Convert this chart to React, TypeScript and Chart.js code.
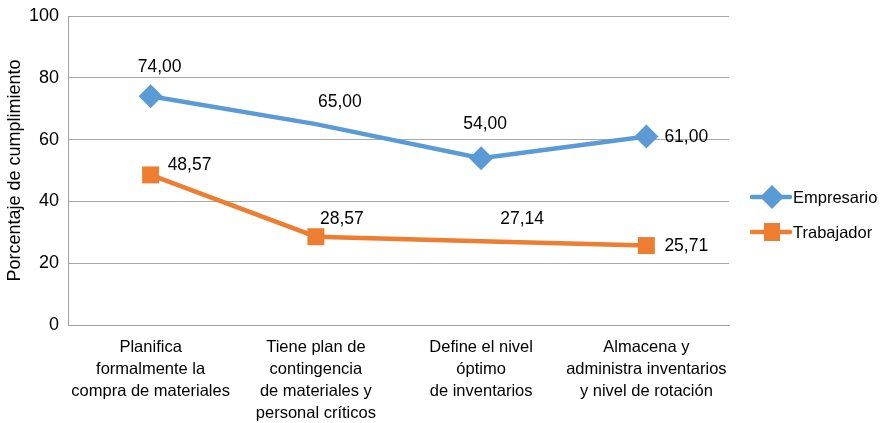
import React, { useEffect, useRef } from "react";
import { Chart, registerables } from "chart.js";

Chart.register(...registerables);

const categories: string[][] = [
  ["Planifica", "formalmente la", "compra de materiales"],
  ["Tiene plan de", "contingencia", "de materiales y", "personal críticos"],
  ["Define el nivel", "óptimo", "de inventarios"],
  ["Almacena y", "administra inventarios", "y nivel de rotación"],
];
const empresario: number[] = [74.0, 65.0, 54.0, 61.0];
const trabajador: number[] = [48.57, 28.57, 27.14, 25.71];
const yTicks: number[] = [0, 20, 40, 60, 80, 100];

const BLUE = "#5B9BD5";
const ORANGE = "#ED7D31";
const FONT = "'Liberation Sans', Arial, sans-serif";

// label offsets (dx, dy, align) relative to each point
const labelOffsets: [number, number, CanvasTextAlign][][] = [
  [[9, -29, "center"], [24, -22, "center"], [4, -34, "center"], [18, 1, "left"]],
  [[17, -10, "left"], [26, -18, "center"], [41, -22, "center"], [18, 1, "left"]],
];

function drawDiamond(ctx: CanvasRenderingContext2D, x: number, y: number, r: number) {
  ctx.beginPath();
  ctx.moveTo(x, y - r);
  ctx.lineTo(x + r, y);
  ctx.lineTo(x, y + r);
  ctx.lineTo(x - r, y);
  ctx.closePath();
  ctx.fill();
}

const dataLabelPlugin = {
  id: "dataLabels",
  afterDatasetsDraw(chart: any) {
    const ctx = chart.ctx as CanvasRenderingContext2D;
    ctx.save();
    ctx.font = `17.5px ${FONT}`;
    ctx.fillStyle = "#000";
    ctx.textBaseline = "middle";
    chart.data.datasets.forEach((ds: any, di: number) => {
      const meta = chart.getDatasetMeta(di);
      meta.data.forEach((pt: any, i: number) => {
        const [dx, dy, align] = labelOffsets[di][i];
        ctx.textAlign = align;
        const txt = (ds.data[i] as number).toFixed(2).replace(".", ",");
        ctx.fillText(txt, pt.x + dx, pt.y + dy);
      });
    });
    ctx.restore();
  },
};

const legendPlugin = {
  id: "customLegend",
  afterDraw(chart: any) {
    const ctx = chart.ctx as CanvasRenderingContext2D;
    const x0 = chart.chartArea.right + 23;
    const items = chart.data.datasets.map((ds: any, i: number) => ({
      label: ds.label,
      color: ds.borderColor,
      y: 197 + i * 35,
      shape: i === 0 ? "diamond" : "square",
    }));
    ctx.save();
    items.forEach((it: any) => {
      ctx.strokeStyle = it.color;
      ctx.fillStyle = it.color;
      ctx.lineWidth = 4.5;
      ctx.lineCap = "round";
      ctx.beginPath();
      ctx.moveTo(x0, it.y);
      ctx.lineTo(x0 + 38, it.y);
      ctx.stroke();
      if (it.shape === "diamond") drawDiamond(ctx, x0 + 20, it.y, 12);
      else ctx.fillRect(x0 + 20 - 8, it.y - 9, 16, 18);
      ctx.fillStyle = "#000";
      ctx.font = `16.5px ${FONT}`;
      ctx.textAlign = "left";
      ctx.textBaseline = "middle";
      ctx.fillText(it.label, x0 + 41, it.y + 1);
    });
    ctx.restore();
  },
};

export default function App() {
  const ref = useRef<HTMLCanvasElement | null>(null);
  useEffect(() => {
    if (!ref.current) return;
    const chart = new Chart(ref.current, {
      type: "line",
      data: {
        labels: categories,
        datasets: [
          {
            label: "Empresario",
            data: empresario,
            borderColor: BLUE,
            backgroundColor: BLUE,
            borderWidth: 4.5,
            pointStyle: "rectRot",
            pointRadius: [12, 0, 12, 12],
            pointHoverRadius: [12, 0, 12, 12],
            pointBorderWidth: 0,
            tension: 0,
          },
          {
            label: "Trabajador",
            data: trabajador,
            borderColor: ORANGE,
            backgroundColor: ORANGE,
            borderWidth: 4.5,
            pointStyle: "rect",
            pointRadius: [12, 12, 0, 12],
            pointHoverRadius: [12, 12, 0, 12],
            pointBorderWidth: 0,
            tension: 0,
          },
        ],
      },
      options: {
        animation: false,
        responsive: false,
        devicePixelRatio: 1,
        layout: { padding: { left: 0, right: 151, top: 16, bottom: 0 } },
        plugins: {
          legend: { display: false },
          tooltip: { enabled: false },
        },
        scales: {
          x: {
            offset: true,
            grid: { display: false, drawTicks: false },
            border: { display: true, color: "#a0a0a0", width: 1 },
            ticks: {
              autoSkip: false,
              maxRotation: 0,
              padding: 12,
              color: "#000",
              font: { family: FONT, size: 16.5, lineHeight: 1.32 },
            },
            afterFit(scale: any) {
              scale.height = 98;
              scale.paddingLeft = 0;
              scale.paddingRight = 0;
            },
          },
          y: {
            min: 0,
            max: 100,
            afterBuildTicks(scale: any) {
              scale.ticks = yTicks.map((v) => ({ value: v }));
            },
            grid: { color: "#a8a8a8", drawTicks: false, lineWidth: 1 },
            border: { display: true, color: "#a0a0a0", width: 1 },
            ticks: {
              padding: 9,
              color: "#000",
              font: { family: FONT, size: 18 },
            },
            title: {
              display: true,
              text: "Porcentaje de cumplimiento",
              color: "#000",
              font: { family: FONT, size: 18 },
              padding: { top: 4, bottom: 0 },
            },
            afterFit(scale: any) {
              scale.width = 68;
              scale.paddingTop = 0;
              scale.paddingBottom = 0;
            },
          },
        },
      },
      plugins: [dataLabelPlugin, legendPlugin],
    });
    return () => chart.destroy();
  }, []);
  return (
    <div style={{ position: "absolute", left: 0, top: 0, width: 880, height: 423, background: "#fff" }}>
      <canvas ref={ref} width={880} height={423} />
    </div>
  );
}
